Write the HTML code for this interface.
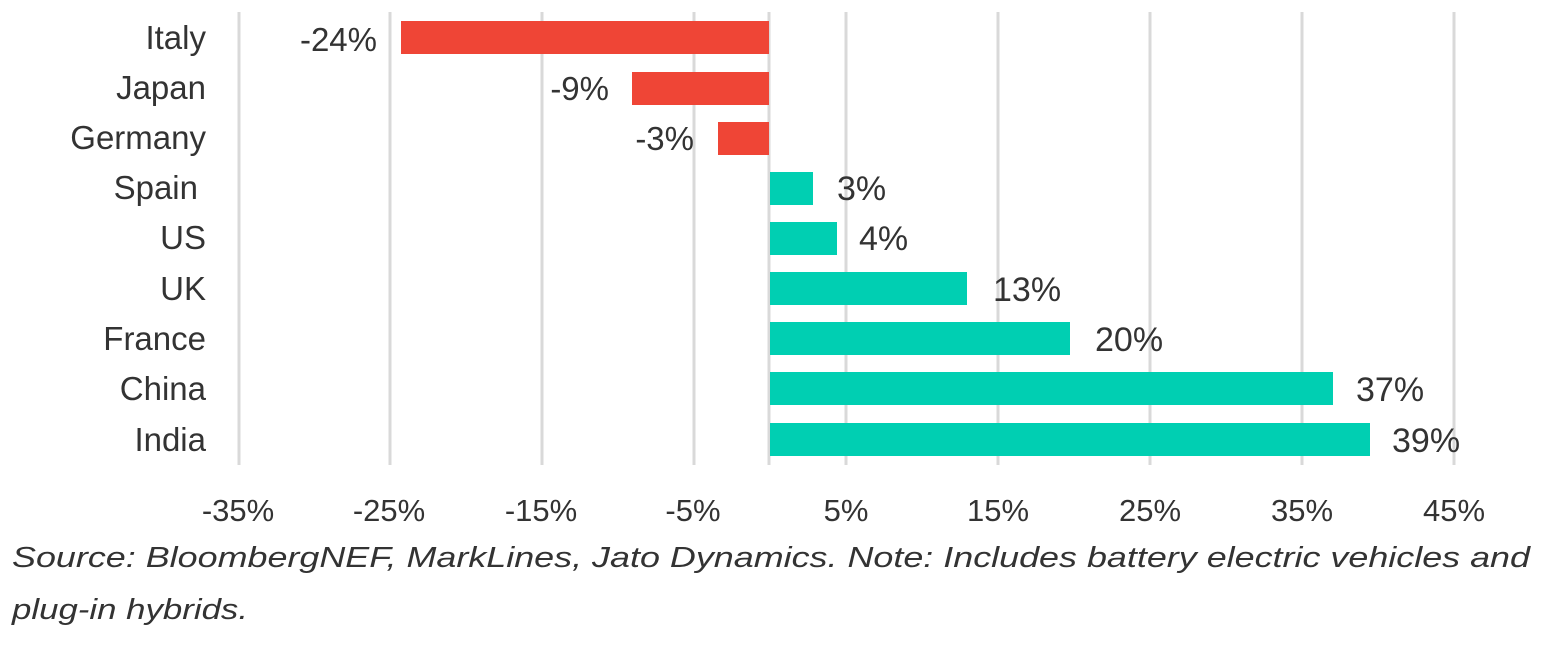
<!DOCTYPE html>
<html><head><style>
body{margin:0;background:#fff;}
svg text{font-family:"Liberation Sans",sans-serif;fill:#333;}
</style></head><body>
<svg width="1550" height="645" xmlns="http://www.w3.org/2000/svg">
<g stroke="#d9d9d9" stroke-width="3">
<line x1="239" y1="12" x2="239" y2="465"/><line x1="390" y1="12" x2="390" y2="465"/>
<line x1="542" y1="12" x2="542" y2="465"/><line x1="694" y1="12" x2="694" y2="465"/>
<line x1="846" y1="12" x2="846" y2="465"/><line x1="998" y1="12" x2="998" y2="465"/>
<line x1="1150" y1="12" x2="1150" y2="465"/><line x1="1302" y1="12" x2="1302" y2="465"/>
<line x1="1454" y1="12" x2="1454" y2="465"/><line x1="769" y1="12" x2="769" y2="465"/>
</g>
<g fill="#ef4536">
<rect x="401" y="21" width="368" height="33"/>
<rect x="632" y="72" width="137" height="33"/>
<rect x="718" y="122" width="51" height="33"/>
</g>
<g fill="#00cfb2">
<rect x="770" y="172" width="43" height="33"/>
<rect x="770" y="222" width="67" height="33"/>
<rect x="770" y="272" width="197" height="33"/>
<rect x="770" y="322" width="300" height="33"/>
<rect x="770" y="372" width="563" height="33"/>
<rect x="770" y="423" width="600" height="33"/>
</g>
<g font-size="33" text-anchor="end">
<text x="206" y="49">Italy</text><text x="206" y="99">Japan</text><text x="206" y="149">Germany</text>
<text x="198" y="199">Spain</text><text x="206" y="249">US</text><text x="206" y="300">UK</text>
<text x="206" y="350">France</text><text x="206" y="400">China</text><text x="206" y="451">India</text>
<text x="377" y="51">-24%</text><text x="609" y="100">-9%</text><text x="694" y="150">-3%</text>
</g>
<g font-size="34">
<text x="837" y="200">3%</text><text x="859" y="250">4%</text><text x="993" y="301">13%</text>
<text x="1095" y="351">20%</text><text x="1356" y="401">37%</text><text x="1392" y="452">39%</text>
</g>
<g font-size="31" text-anchor="middle">
<text x="238" y="521">-35%</text><text x="389" y="521">-25%</text><text x="541" y="521">-15%</text>
<text x="693" y="521">-5%</text><text x="846" y="521">5%</text><text x="998" y="521">15%</text>
<text x="1150" y="521">25%</text><text x="1302" y="521">35%</text><text x="1454" y="521">45%</text>
</g>
<g font-size="29" font-style="italic">
<text x="12" y="567" textLength="1518" lengthAdjust="spacingAndGlyphs">Source: BloombergNEF, MarkLines, Jato Dynamics. Note: Includes battery electric vehicles and</text>
<text x="12" y="619" textLength="236" lengthAdjust="spacingAndGlyphs">plug-in hybrids.</text>
</g>
</svg>
</body></html>
